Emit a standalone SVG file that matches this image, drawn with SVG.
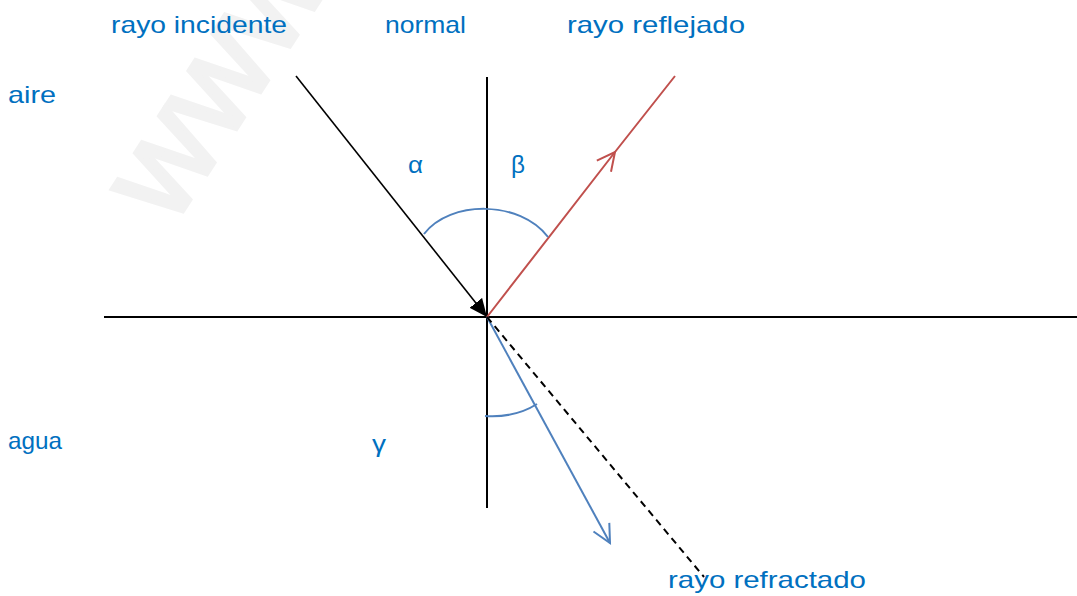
<svg xmlns="http://www.w3.org/2000/svg" width="1077" height="596" viewBox="0 0 1077 596">
<style>
.lbl{font-family:"Liberation Sans",sans-serif;font-size:24px;fill:#0070c0}
.wm{font-family:"Liberation Sans",sans-serif;font-size:136px;fill:#f2f2f2;stroke:#f2f2f2;stroke-width:4}
.axis{stroke:#000;stroke-width:2;fill:none}
</style>
<defs>
<marker id="arrFill" markerUnits="userSpaceOnUse" markerWidth="22" markerHeight="22" refX="18" refY="8" orient="auto">
<path d="M0,0 L18,8 L0,16 Z" fill="#000"/>
</marker>
<marker id="openRed" markerUnits="userSpaceOnUse" markerWidth="24" markerHeight="24" refX="19" refY="10" orient="auto" overflow="visible">
<path d="M1,1 L19,10 L1,19" fill="none" stroke="#c0504d" stroke-width="2"/>
</marker>
<marker id="openBlue" markerUnits="userSpaceOnUse" markerWidth="24" markerHeight="24" refX="19" refY="10" orient="auto" overflow="visible">
<path d="M1,1 L19,10 L1,19" fill="none" stroke="#4f81bd" stroke-width="2"/>
</marker>
</defs>
<rect width="1077" height="596" fill="#fff"/>
<text class="wm" transform="translate(172,228) rotate(-57)">www</text>
<g id="connectors">
<line id="surface" class="axis" x1="104" y1="317" x2="1077" y2="317"/>
<line id="normal" class="axis" x1="487" y1="77" x2="487" y2="508"/>
<line id="incident" x1="296" y1="76" x2="487" y2="317" stroke="#000" stroke-width="1.6" marker-end="url(#arrFill)"/>
<polyline id="reflected" points="487,317 615,152 675,76" fill="none" stroke="#c0504d" stroke-width="2" marker-mid="url(#openRed)"/>
<line id="refracted" x1="487" y1="317" x2="610" y2="543" stroke="#4f81bd" stroke-width="2" marker-end="url(#openBlue)"/>
<line id="extension" x1="487" y1="317" x2="704" y2="577" stroke="#000" stroke-width="2" stroke-dasharray="7,5"/>
<path id="arcAB" d="M424,234 C450,200 520,200 548,237" fill="none" stroke="#4f81bd" stroke-width="2"/>
<path id="arcG" d="M485,416 Q515,418 537,404" fill="none" stroke="#4f81bd" stroke-width="2"/>
</g>
<g id="label-incidente"><text class="lbl" x="111" y="33" textLength="176" lengthAdjust="spacingAndGlyphs">rayo incidente</text></g>
<g id="label-normal"><text class="lbl" x="385" y="33" textLength="81" lengthAdjust="spacingAndGlyphs">normal</text></g>
<g id="label-reflejado"><text class="lbl" x="567" y="33" textLength="178" lengthAdjust="spacingAndGlyphs">rayo reflejado</text></g>
<g id="label-aire"><text class="lbl" x="8" y="103" textLength="48" lengthAdjust="spacingAndGlyphs">aire</text></g>
<g id="label-agua"><text class="lbl" x="8" y="449" textLength="54" lengthAdjust="spacingAndGlyphs">agua</text></g>
<g id="label-alpha"><text class="lbl" x="408" y="173" textLength="15" lengthAdjust="spacingAndGlyphs">α</text></g>
<g id="label-beta"><text class="lbl" x="511" y="173" textLength="14" lengthAdjust="spacingAndGlyphs">β</text></g>
<g id="label-gamma"><text class="lbl" x="372" y="452" textLength="14" lengthAdjust="spacingAndGlyphs">γ</text></g>
<g id="label-refractado"><text class="lbl" x="668" y="588" textLength="198" lengthAdjust="spacingAndGlyphs">rayo refractado</text></g>
</svg>
